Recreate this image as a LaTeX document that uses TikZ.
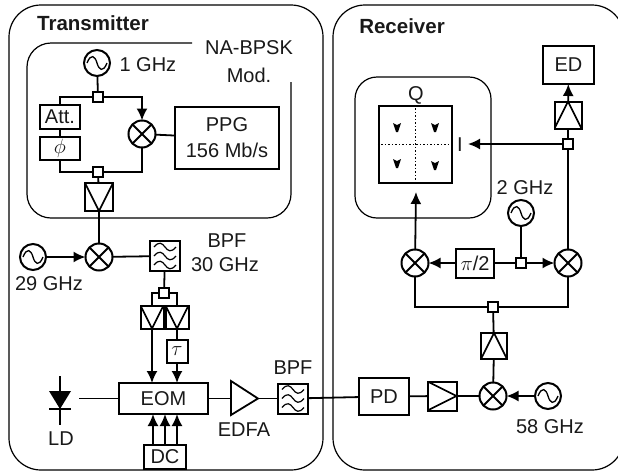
\documentclass[tikz,border=0pt]{standalone}
\usepackage{fontspec}
\setmainfont{Liberation Sans}
\usetikzlibrary{arrows.meta}
\tikzset{>={Latex[length=12pt,width=11pt]}}
\tikzset{ wire/.style={line width=1.8pt},
  frame/.style={line width=1.2pt,rounded corners=32pt},
  boxnode/.style={draw,line width=2pt,inner sep=0pt,outer sep=0pt},
  tap/.style={boxnode,minimum size=10pt},
  mixer/.style={draw,circle,line width=2pt,minimum size=27pt,inner sep=0pt,outer sep=0pt,
    path picture={\draw[line width=1.8pt] (path picture bounding box.north west) -- (path picture bounding box.south east)
      (path picture bounding box.north east) -- (path picture bounding box.south west);}},
  osc/.style={draw,circle,line width=2pt,minimum size=26pt,inner sep=0pt,outer sep=0pt,
    path picture={\draw[line width=1.3pt,shift={(path picture bounding box.center)}] (-10,0) .. controls (-6,-10) and (-2,-7) .. (0,0) .. controls (2,7) and (6,10) .. (10,0);}},
  ampdown/.style={boxnode,minimum width=#1,minimum height=#1,
    path picture={\draw[line width=1.6pt] (path picture bounding box.north west) -- (path picture bounding box.south) -- (path picture bounding box.north east);}},
  ampup/.style={boxnode,minimum width=#1,minimum height=#1,
    path picture={\draw[line width=1.6pt] (path picture bounding box.south west) -- (path picture bounding box.north) -- (path picture bounding box.south east);}},
  ampright/.style={boxnode,minimum width=#1,minimum height=#1,
    path picture={\draw[line width=1.6pt] (path picture bounding box.north west) -- (path picture bounding box.east) -- (path picture bounding box.south west);}},
  filter/.style={boxnode,minimum width=30pt,minimum height=30pt,
    path picture={\foreach \dy in {-9,0,9} \draw[line width=1.2pt,shift={(path picture bounding box.center)}] (-11,\dy) .. controls (-6,\dy-6) and (-3,\dy-4) .. (0,\dy) .. controls (3,\dy+4) and (6,\dy+6) .. (11,\dy);}},
  every node/.append style={font=\fontsize{20}{24}\selectfont,text=black!90}
}

\begin{document}
\begin{tikzpicture}[x=1pt,y=-1pt]
  \useasboundingbox (0,0) rectangle (618,472);
  \clip (0,0) rectangle (618,472);
  % frames
  \draw[frame] (9,5) rectangle (323,470);
  \draw[frame] (333,5) rectangle (624,470);
  \draw[line width=1.2pt,rounded corners=24pt] (192,43) -- (27,43) -- (27,218) -- (291,218) -- (291,82);
  \node[font=\fontsize{20.5}{24}\bfseries\selectfont] (txlabel) at (93,23) {Transmitter};
  \node[font=\fontsize{20.5}{24}\bfseries\selectfont] (rxlabel) at (402,26) {Receiver};
  % modulator
  \node (modlabel) at (249,48) {NA-BPSK};
  \node (modlabelb) at (249,75) {Mod.};
  \node[osc] (oscmod) at (97,63) {};
  \node[anchor=west] (oscmodlabel) at (116,65) {1 GHz};
  \node[tap] (tapa) at (98,97) {};
  \node[mixer] (mixa) at (142,134) {};
  \node[boxnode,minimum width=104pt,minimum height=62pt,align=center] (ppg) at (227,138) {PPG\\[2pt]156 Mb/s};
  \node[boxnode,minimum width=40pt,minimum height=24pt] (att) at (60,117) {Att.};
  \node[boxnode,minimum width=40pt,minimum height=23pt] (phase) at (60,148) {$\phi$};
  \node[tap] (tapb) at (98,172) {};
  \node[ampdown=28pt] (ampa) at (99,197) {};
  \draw[wire] (oscmod) -- (tapa);
  \draw[wire] (tapa) -| (att.north);
  \draw[wire,->] (tapa) -| (mixa.north);
  \draw[wire] (att) -- (phase);
  \draw[wire] (phase.south) |- (tapb);
  \draw[wire] (mixa.south) |- (tapb);
  \draw[wire] (mixa) -- (ppg);
  \draw[wire] (tapb) -- (ampa);
  % upconversion
  \node[mixer] (mixb) at (99,257) {};
  \node[osc] (oscb) at (33,257) {};
  \node (oscblabel) at (49,284) {29 GHz};
  \node[filter] (bpfa) at (165,256) {};
  \node (bpfalabel) at (227,241) {BPF};
  \node (bpfalabelb) at (225,265) {30 GHz};
  \node[tap] (tapc) at (164,293) {};
  \node[ampdown=23pt] (ampb) at (152,317) {};
  \node[ampdown=23pt] (ampc) at (177,317) {};
  \node[boxnode,minimum width=21pt,minimum height=23pt] (tau) at (177,351) {$\tau$};
  \draw[wire] (ampa) -- (mixb);
  \draw[wire,->] (oscb) -- (mixb);
  \draw[wire] (mixb) -- (bpfa);
  \draw[wire] (bpfa) -- (tapc);
  \draw[wire] (tapc.west) -| (ampb.north);
  \draw[wire] (tapc.east) -| (ampc.north);
  \draw[wire] (ampc) -- (tau);
  % EOM, laser
  \node[boxnode,minimum width=89pt,minimum height=31pt] (eom) at (163.5,398.5) {EOM};
  \node[boxnode,minimum width=42pt,minimum height=24pt] (dc) at (165,457) {DC};
  \coordinate (ldtop) at (60,376);
  \coordinate (ldbot) at (60,425);
  \coordinate (ldout) at (79,398.5);
  \node (ldlabel) at (61,439) {LD};
  \draw[wire] (ldtop) -- (ldbot);
  \fill (49,391) -- (71,391) -- (60,409) -- cycle;
  \draw[wire] (49,409) -- (71,409);
  \draw[wire] (ldout) -- (eom);
  \draw[wire,->] (ampb.south) -- (ampb |- eom.north);
  \draw[wire,->] (tau) -- (tau |- eom.north);
  \foreach \dx in {-12,0,12}
    \draw[wire,->] ([xshift=\dx pt]dc.north) -- ([xshift=\dx pt]dc.north |- eom.south);
  % EDFA, BPF
  \coordinate (edfain) at (231,398.5);
  \coordinate (edfaout) at (258,398.5);
  \draw[wire] (231,381) -- (edfaout) -- (231,415) -- cycle;
  \node (edfalabel) at (244,430) {EDFA};
  \node[filter] (bpfb) at (293,398.5) {};
  \node (bpfblabel) at (293,368) {BPF};
  \draw[wire] (eom) -- (edfain);
  \draw[wire] (edfaout) -- (bpfb);
  % receiver front end
  \node[boxnode,minimum width=50pt,minimum height=37pt] (pd) at (384,396.5) {PD};
  \node[ampright=29pt] (ampd) at (442,396) {};
  \node[mixer] (mixc) at (493,396) {};
  \node[osc] (oscc) at (548,396) {};
  \node (oscclabel) at (550,427) {58 GHz};
  \node[ampup=26pt] (ampe) at (494,346) {};
  \node[tap] (tapd) at (493,307) {};
  \draw[wire] (bpfb) -- (pd);
  \draw[wire] (pd) -- (ampd);
  \draw[wire] (ampd) -- (mixc);
  \draw[wire,->] (oscc) -- (mixc);
  \draw[wire] (mixc) -- (ampe);
  \draw[wire] (ampe) -- (tapd);
  % IQ mixers
  \node[mixer] (mixi) at (568,263) {};
  \node[mixer] (mixq) at (415,263) {};
  \node[boxnode,minimum width=38pt,minimum height=29pt] (shift) at (475,263) {$\pi$/2};
  \node[tap] (tape) at (521,263) {};
  \node[osc] (oscd) at (521,213) {};
  \node (oscdlabel) at (525,188) {2 GHz};
  \draw[wire] (tapd) -| (mixq.south);
  \draw[wire] (tapd) -| (mixi.south);
  \draw[wire] (oscd) -- (tape);
  \draw[wire] (tape) -- (shift);
  \draw[wire,->] (shift) -- (mixq);
  \draw[wire,->] (tape) -- (mixi);
  % constellation
  \node[draw,line width=1.2pt,rounded corners=22pt,minimum width=136pt,minimum height=141pt,inner sep=0pt] (iqframe) at (423,147.5) {};
  \node[draw,line width=2.2pt,minimum width=73pt,minimum height=77pt,inner sep=0pt] (iq) at (415.5,144.5) {};
  \node (qlabel) at (416,95) {Q};
  \node (ilabel) at (460,145) {I};
  \draw[line width=1.5pt,dotted] (iq.north) -- (iq.south);
  \draw[line width=1.5pt,dotted] (iq.west) -- (iq.east);
  \foreach \px/\py in {397/127,435/127,397/163,435/165}
    \fill (\px-4,\py-4) -- (\px,\py-2) -- (\px+4,\py-4) -- (\px+1,\py+5) -- (\px-1,\py+5) -- cycle;
  \coordinate (iqin) at (416,192);
  \coordinate (iin) at (468,144);
  \draw[wire,->] (mixq) -- (iqin);
  % detector
  \node[tap] (tapf) at (568,144) {};
  \node[ampup=27pt] (ampf) at (568,115) {};
  \node[boxnode,minimum width=51pt,minimum height=38pt] (ed) at (568.5,65) {ED};
  \draw[wire] (mixi) -- (tapf);
  \draw[wire] (tapf) -- (ampf);
  \draw[wire,->] (ampf) -- (ed);
  \draw[wire,->] (tapf) -- (iin);
\end{tikzpicture}
\end{document}
